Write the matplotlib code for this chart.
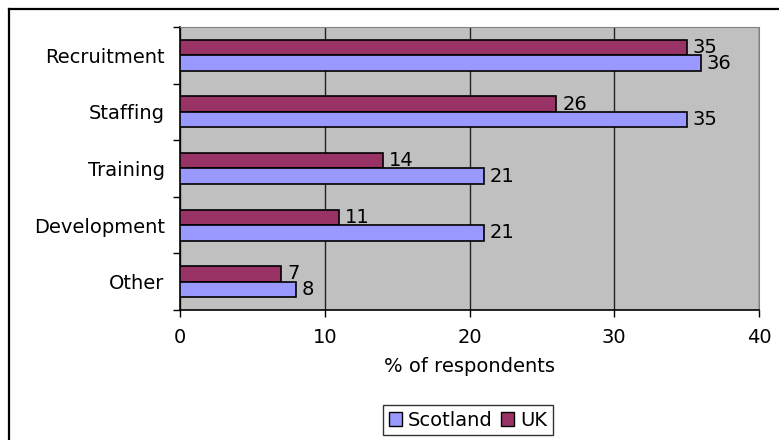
import matplotlib.pyplot as plt
import numpy as np
from matplotlib.lines import Line2D
from matplotlib.patches import Patch

categories = ['Recruitment', 'Staffing', 'Training', 'Development', 'Other']
scotland = [36, 35, 21, 21, 8]
uk = [35, 26, 14, 11, 7]

col_scot = '#9999FF'
col_uk = '#993366'

plt.rcParams['font.family'] = 'DejaVu Sans'
fs = 14

fig = plt.figure(figsize=(7.79, 4.40), dpi=100)
ax = fig.add_axes([180/779, 130/440, 579/779, 283/440])
ax.set_facecolor('#C0C0C0')

y = np.arange(len(categories))
h = 0.275
ax.barh(y - h/2, uk, height=h, color=col_uk, edgecolor='black', linewidth=1.2, zorder=3)
ax.barh(y + h/2, scotland, height=h, color=col_scot, edgecolor='black', linewidth=1.2, zorder=3)

for i in range(len(categories)):
    ax.text(uk[i] + 0.4, y[i] - h/2, str(uk[i]), va='center', ha='left', fontsize=fs, zorder=4)
    ax.text(scotland[i] + 0.4, y[i] + h/2, str(scotland[i]), va='center', ha='left', fontsize=fs, zorder=4)

ax.set_xlim(0, 40)
ax.set_ylim(len(categories) - 0.5, -0.5)
ax.set_xticks([0, 10, 20, 30, 40])
ax.set_yticks(y)
ax.set_yticklabels(categories, fontsize=fs)
ax.set_yticks(np.arange(-0.5, len(categories)), minor=True)
ax.tick_params(axis='y', which='major', length=0, pad=11)
ax.tick_params(axis='y', which='minor', length=5, width=1, direction='out')
ax.tick_params(axis='x', length=5, width=1, direction='out', labelsize=fs, pad=8)
ax.xaxis.grid(True, color='#222222', linewidth=1)
ax.set_axisbelow(True)

for s in ['top', 'right']:
    ax.spines[s].set_color('#808080')
for s in ['left', 'bottom']:
    ax.spines[s].set_color('black')
    ax.spines[s].set_linewidth(1.2)

ax.set_xlabel('% of respondents', fontsize=fs, labelpad=7)

handles = [Patch(facecolor=col_scot, edgecolor='black', label='Scotland'),
           Patch(facecolor=col_uk, edgecolor='black', label='UK')]
fig.legend(handles=handles, loc='center', bbox_to_anchor=(468/779, 1 - 420/440),
           ncol=2, fontsize=fs, frameon=True, fancybox=False, edgecolor='black',
           handlelength=0.7, handleheight=0.7, handletextpad=0.3, columnspacing=0.4,
           borderpad=0.3, borderaxespad=0)

# outer chart border (top and left edges)
fig.add_artist(Line2D([9/779, 9/779], [0, 1 - 9/440], color='black', linewidth=1.6, transform=fig.transFigure))
fig.add_artist(Line2D([9/779, 1], [1 - 9/440, 1 - 9/440], color='black', linewidth=1.6, transform=fig.transFigure))

fig.savefig('out.png', dpi=100)
